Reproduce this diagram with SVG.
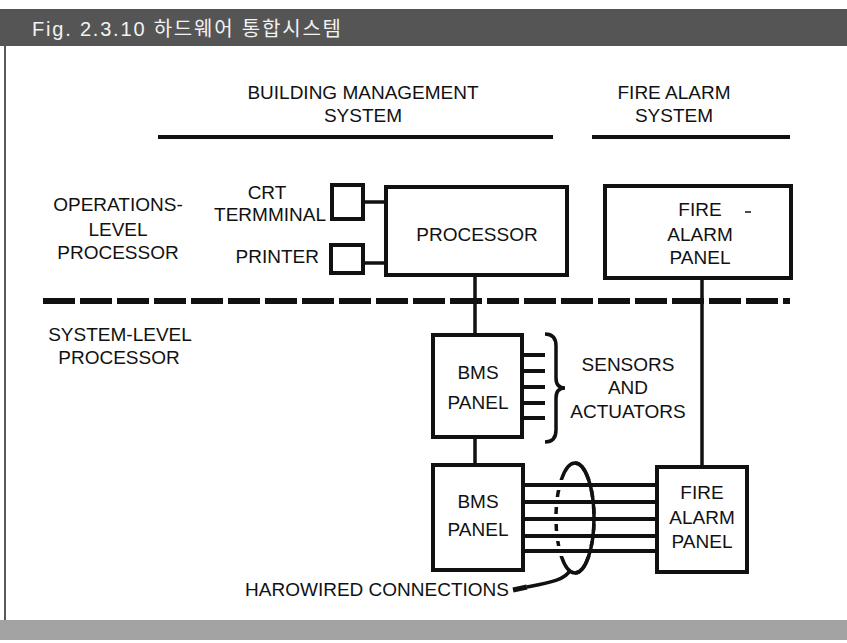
<svg xmlns="http://www.w3.org/2000/svg" width="847" height="643" viewBox="0 0 847 643">
<style>
text{font-family:"Liberation Sans","Noto Sans CJK KR",sans-serif;font-size:19px;fill:#111;}
.c{text-anchor:middle}
.e{text-anchor:end}
.box{fill:#fff;stroke:#111;stroke-width:4}
.ln{fill:none;stroke:#111;stroke-width:3.5}
.title{font-size:20px;letter-spacing:1.8px;fill:#f2f2f2}
</style>
<rect x="0" y="0" width="847" height="643" fill="#fff"/>
<rect x="0" y="9" width="847" height="37" fill="#555"/>
<text class="title" x="32" y="36">Fig. 2.3.10 하드웨어 통합시스템</text>
<line x1="5" y1="46" x2="5" y2="620" stroke="#222" stroke-width="1.5"/>
<rect x="0" y="620" width="847" height="20" fill="#a3a3a3"/>

<g id="headers">
<text class="c" x="363" y="99">BUILDING MANAGEMENT</text>
<text class="c" x="363" y="122">SYSTEM</text>
<line x1="158" y1="137" x2="553" y2="137" stroke="#111" stroke-width="4"/>
<text class="c" x="674" y="99">FIRE ALARM</text>
<text class="c" x="674" y="122">SYSTEM</text>
<line x1="592" y1="137" x2="790" y2="137" stroke="#111" stroke-width="4"/>
</g>

<g id="levels">
<text class="c" x="118" y="211">OPERATIONS-</text>
<text class="c" x="118" y="236">LEVEL</text>
<text class="c" x="118" y="259">PROCESSOR</text>
<text class="c" x="120" y="341">SYSTEM-LEVEL</text>
<text class="c" x="119" y="364">PROCESSOR</text>
</g>

<g id="connectors">
<line x1="43" y1="301" x2="790" y2="301" stroke="#111" stroke-width="6" stroke-dasharray="32 5"/>
<line class="ln" x1="363" y1="202" x2="386" y2="202"/>
<line class="ln" x1="363" y1="263" x2="386" y2="263"/>
<line class="ln" x1="475" y1="275" x2="475" y2="335"/>
<line class="ln" x1="475" y1="437" x2="475" y2="465"/>
<line class="ln" x1="702" y1="278" x2="702" y2="467"/>
<g stroke="#111" stroke-width="4">
<line x1="522" y1="355" x2="545" y2="355"/>
<line x1="522" y1="371" x2="545" y2="371"/>
<line x1="522" y1="387" x2="545" y2="387"/>
<line x1="522" y1="403" x2="545" y2="403"/>
<line x1="522" y1="418" x2="545" y2="418"/>
</g>
<path class="ln" d="M545 334 Q556 334 556 346 L556 378 Q556 388 565 388 Q556 388 556 398 L556 430 Q556 442 545 442"/>
<ellipse class="ln" cx="575" cy="518" rx="19" ry="55"/>
<g stroke="#fff" stroke-width="10">
<line x1="523" y1="485" x2="657" y2="485"/>
<line x1="523" y1="502" x2="657" y2="502"/>
<line x1="523" y1="519" x2="657" y2="519"/>
<line x1="523" y1="536" x2="657" y2="536"/>
<line x1="523" y1="551" x2="657" y2="551"/>
</g>
<g stroke="#111" stroke-width="4">
<line x1="523" y1="485" x2="657" y2="485"/>
<line x1="523" y1="502" x2="657" y2="502"/>
<line x1="523" y1="519" x2="657" y2="519"/>
<line x1="523" y1="536" x2="657" y2="536"/>
<line x1="523" y1="551" x2="657" y2="551"/>
</g>
<path class="ln" d="M575 463 A19 55 0 0 1 575 573"/>
<path class="ln" d="M570 570 C566 580 548 583 527 587"/>
<line x1="527" y1="587" x2="513" y2="590" stroke="#111" stroke-width="5"/>
</g>

<g id="crt">
<rect class="box" x="332" y="185" width="31" height="34"/>
<text class="c" x="267" y="199">CRT</text>
<text class="e" x="326" y="221">TERMMINAL</text>
</g>
<g id="printer">
<rect class="box" x="331" y="245" width="32" height="28"/>
<text class="e" x="319" y="263">PRINTER</text>
</g>
<g id="processor">
<rect class="box" x="386" y="187" width="181" height="88"/>
<text class="c" x="477" y="241">PROCESSOR</text>
</g>
<g id="fire-alarm-panel-1">
<rect class="box" x="605" y="186" width="186" height="92"/>
<text class="c" x="700" y="216">FIRE</text>
<text class="c" x="700" y="241">ALARM</text>
<text class="c" x="700" y="264">PANEL</text>
<line x1="745" y1="212" x2="751" y2="212" stroke="#111" stroke-width="1.5"/>
</g>
<g id="bms-panel-1">
<rect class="box" x="433" y="335" width="89" height="102"/>
<text class="c" x="478" y="379">BMS</text>
<text class="c" x="478" y="409">PANEL</text>
</g>
<g id="sensors">
<text class="c" x="628" y="371">SENSORS</text>
<text class="c" x="628" y="394">AND</text>
<text class="c" x="628" y="418">ACTUATORS</text>
</g>
<g id="bms-panel-2">
<rect class="box" x="433" y="465" width="90" height="105"/>
<text class="c" x="478" y="508">BMS</text>
<text class="c" x="478" y="536">PANEL</text>
</g>
<g id="fire-alarm-panel-2">
<rect class="box" x="657" y="467" width="90" height="105"/>
<text class="c" x="702" y="499">FIRE</text>
<text class="c" x="702" y="524">ALARM</text>
<text class="c" x="702" y="548">PANEL</text>
</g>
<g id="hardwired-label">
<text class="e" x="509" y="596">HAROWIRED CONNECTIONS</text>
</g>
</svg>
